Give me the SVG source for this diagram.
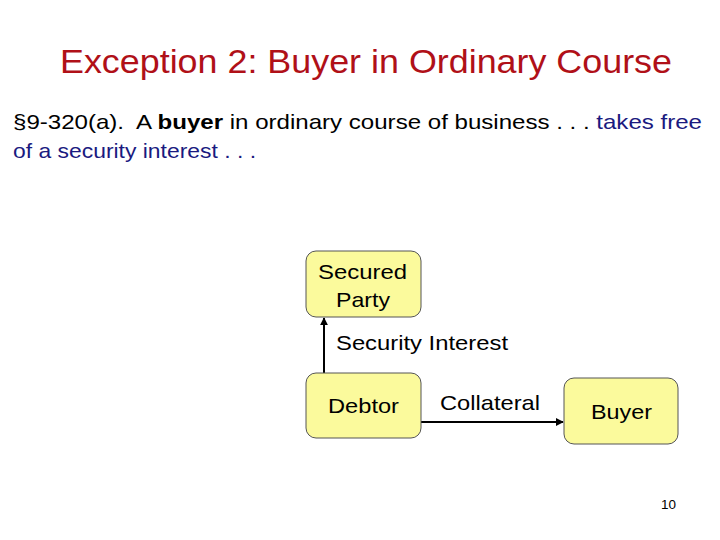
<svg xmlns="http://www.w3.org/2000/svg" width="720" height="540" viewBox="0 0 720 540">
<style>
text{font-family:"Liberation Sans",Arial,sans-serif;fill:#000}
.box{fill:#fbfa9c;stroke:#555;stroke-width:1}
.lbl{font-size:21px}
.con{stroke:#000;stroke-width:2;fill:none}
.blue{fill:#1a1a80}
</style>
<defs>
<marker id="ah" viewBox="0 0 10 10" refX="9" refY="5" markerWidth="4" markerHeight="4" orient="auto"><path d="M0,0L10,5L0,10z" fill="#000"/></marker>
</defs>
<rect width="720" height="540" fill="#fff"/>
<text x="60" y="73" font-size="33" textLength="612" lengthAdjust="spacingAndGlyphs" style="fill:#b01018">Exception 2: Buyer in Ordinary Course</text>
<text x="13" y="129" font-size="21" xml:space="preserve" textLength="689" lengthAdjust="spacingAndGlyphs">§9-320(a).  A <tspan font-weight="bold">buyer</tspan> in ordinary course of business . . . <tspan class="blue">takes free</tspan></text>
<text x="13" y="158" font-size="21" class="blue" textLength="243" lengthAdjust="spacingAndGlyphs">of a security interest . . .</text>
<g id="connectors">
<path class="con" d="M324,373V318" marker-end="url(#ah)"/>
<path class="con" d="M421,422H563" marker-end="url(#ah)"/>
<text class="lbl" x="336" y="350" textLength="172" lengthAdjust="spacingAndGlyphs">Security Interest</text>
<text class="lbl" x="440" y="410" textLength="100" lengthAdjust="spacingAndGlyphs">Collateral</text>
</g>
<g id="secured-party">
<rect class="box" x="306" y="251" width="115" height="66" rx="10"/>
<text class="lbl" x="318" y="279" textLength="89" lengthAdjust="spacingAndGlyphs">Secured</text>
<text class="lbl" x="336" y="307" textLength="54" lengthAdjust="spacingAndGlyphs">Party</text>
</g>
<g id="debtor">
<rect class="box" x="306" y="373" width="115" height="65" rx="10"/>
<text class="lbl" x="328" y="413" textLength="71" lengthAdjust="spacingAndGlyphs">Debtor</text>
</g>
<g id="buyer">
<rect class="box" x="564" y="378" width="114" height="66" rx="10"/>
<text class="lbl" x="591" y="419" textLength="61" lengthAdjust="spacingAndGlyphs">Buyer</text>
</g>
<text x="661" y="509" font-size="13" textLength="15" lengthAdjust="spacingAndGlyphs">10</text>
</svg>
